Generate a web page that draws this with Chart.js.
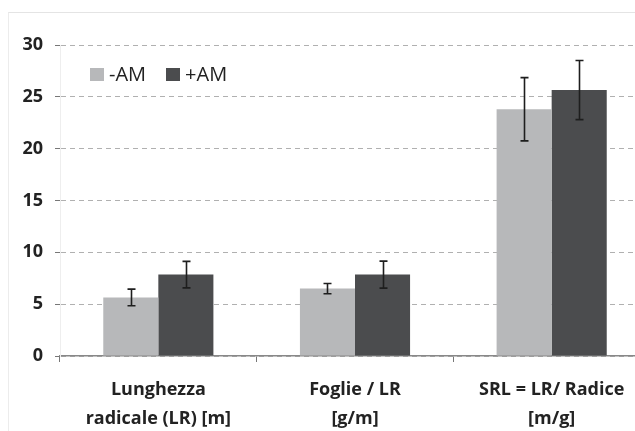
<!DOCTYPE html>
<html>
<head>
<meta charset="utf-8">
<script src="https://cdn.jsdelivr.net/npm/chart.js@4.4.0/dist/chart.umd.min.js"></script>
<style>
  html, body { margin: 0; padding: 0; background: #fff; overflow: hidden; }
  #frame { position: absolute; left: 8px; top: 12px; width: 700px; height: 500px;
           border-left: 1px solid #ececec; border-top: 1px solid #e4e4e4; }
  #wrap { position: absolute; left: 0; top: 0; width: 662px; height: 431px; }
  #legend { position: absolute; left: 90px; top: 60px; font: 20px "Open Sans", sans-serif; color: #222; white-space: nowrap; }
  #legend span.item { display: inline-block; margin-right: 20px; }
  #legend span.box { display: inline-block; width: 14px; height: 13px; margin-right: 5px; vertical-align: 0px; }
</style>
</head>
<body>
<div id="frame"></div>
<div id="wrap"><canvas id="myChart"></canvas></div>
<div id="legend"></div>
<script>
// categorie (etichette su due righe)
const categories = [
  ["Lunghezza", "radicale (LR) [m]"],
  ["Foglie / LR", "[g/m]"],
  ["SRL = LR/ Radice", "[m/g]"]
];
const seriesNames = ["-AM", "+AM"];
const valMinus = [5.65, 6.5, 23.8];
const valPlus = [7.85, 7.85, 25.65];
const errMinus = [0.8, 0.5, 3.05];
const errPlus = [1.28, 1.3, 2.85];
const yTicks = [0, 5, 10, 15, 20, 25, 30];
const colors = ["#b7b8ba", "#4b4c4e"];

const errorBars = {
  id: "errorBars",
  afterDatasetsDraw(chart) {
    const ctx = chart.ctx;
    const y = chart.scales.y;
    ctx.save();
    ctx.strokeStyle = "#1e1e1e";
    ctx.lineWidth = 1.6;
    chart.data.datasets.forEach((ds, di) => {
      const meta = chart.getDatasetMeta(di);
      meta.data.forEach((bar, i) => {
        const v = ds.data[i], e = ds.errors[i];
        const top = y.getPixelForValue(v + e);
        const bot = y.getPixelForValue(v - e);
        const x = Math.round(bar.x) + 0.5;
        ctx.beginPath();
        ctx.moveTo(x, top); ctx.lineTo(x, bot);
        ctx.moveTo(x - 4, top); ctx.lineTo(x + 4, top);
        ctx.moveTo(x - 4, bot); ctx.lineTo(x + 4, bot);
        ctx.stroke();
      });
    });
    ctx.restore();
  }
};

const ctx = document.getElementById("myChart").getContext("2d");
const myChart = new Chart(ctx, {
  type: "bar",
  data: {
    labels: categories,
    datasets: [
      { label: seriesNames[0], data: valMinus, errors: errMinus, backgroundColor: colors[0] },
      { label: seriesNames[1], data: valPlus, errors: errPlus, backgroundColor: colors[1] }
    ]
  },
  options: {
    responsive: true,
    maintainAspectRatio: false,
    animation: false,
    categoryPercentage: 0.56,
    barPercentage: 1.0,
    layout: { padding: { top: 45, right: 12, left: 0, bottom: 0 } },
    plugins: {
      legend: { display: false },
      tooltip: { enabled: false }
    },
    scales: {
      x: {
        grid: { display: true, offset: true, drawOnChartArea: false, tickLength: 6, tickColor: "#777", lineWidth: 1 },
        border: { display: true, color: "#888", width: 1.5 },
        ticks: {
          color: "#222",
          padding: 14,
          maxRotation: 0,
          font: { family: "'Open Sans'", size: 18, weight: "bold", lineHeight: 1.58 }
        },
        afterFit(s) { s.height = 75; }
      },
      y: {
        min: 0,
        max: 30,
        afterBuildTicks(s) { s.ticks = yTicks.map(v => ({ value: v })); },
        grid: { color: "#b0b0b0", lineWidth: 1, tickLength: 5, tickColor: "#777", tickBorderDash: [] },
        border: { display: true, color: "#eeeeee", dash: [5, 4] },
        ticks: {
          color: "#222",
          padding: 12,
          font: { family: "'Open Sans'", size: 18, weight: "bold" }
        },
        afterFit(s) { s.width = 60; }
      }
    }
  },
  plugins: [errorBars]
});

const legend = document.getElementById("legend");
seriesNames.forEach((n, i) => {
  const it = document.createElement("span");
  it.className = "item";
  const b = document.createElement("span");
  b.className = "box";
  b.style.background = colors[i];
  it.appendChild(b);
  it.appendChild(document.createTextNode(n));
  legend.appendChild(it);
});
</script>
</body>
</html>
